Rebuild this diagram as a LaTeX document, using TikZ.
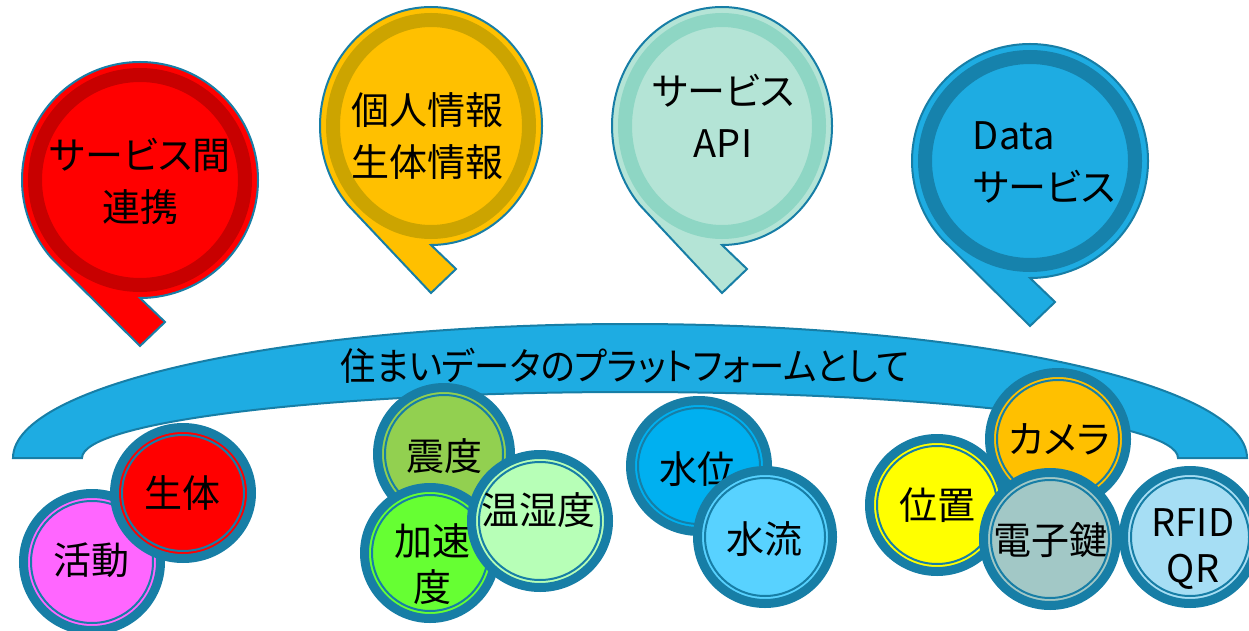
\documentclass[tikz,border=0pt]{standalone}
\usepackage{fontspec}
\setmainfont{Noto Sans CJK JP}[RawFeature=+palt]
\newfontfamily\narrowjp{Noto Sans CJK JP}[RawFeature=+palt, FakeStretch=0.93]

\definecolor{edge}{RGB}{23,126,166}
\definecolor{bandblue}{RGB}{30,172,226}
\definecolor{redfill}{RGB}{255,0,0}
\definecolor{redring}{RGB}{200,0,0}
\definecolor{goldfill}{RGB}{255,192,0}
\definecolor{goldring}{RGB}{204,164,0}
\definecolor{mintfill}{RGB}{180,228,214}
\definecolor{mintring}{RGB}{142,214,196}
\definecolor{bluefill}{RGB}{30,172,226}
\definecolor{bluering}{RGB}{22,130,172}
\definecolor{pinkC}{RGB}{255,102,255}
\definecolor{olivC}{RGB}{146,208,80}
\definecolor{limeC}{RGB}{102,255,51}
\definecolor{paleC}{RGB}{183,255,183}
\definecolor{cyanC}{RGB}{0,176,240}
\definecolor{skyC}{RGB}{88,210,255}
\definecolor{yellowC}{RGB}{255,255,0}
\definecolor{amberC}{RGB}{255,192,0}
\definecolor{greyC}{RGB}{162,200,198}
\definecolor{iceC}{RGB}{166,222,244}

\begin{document}
\begin{tikzpicture}[x=1pt,y=1pt,
    outline/.style={draw=edge, line width=2pt},
    ring/.style={line width=14pt},
    sensor/.style={draw=edge, line width=9pt},
    innerline/.style={draw=edge, line width=2pt},
    txt/.style={align=center, inner sep=0pt, font=\fontsize{38}{52}\selectfont},
    stxt/.style={align=center, inner sep=0pt, font=\fontsize{38}{46}\selectfont}]
  \useasboundingbox (0,0) rectangle (1249,630);

  % platform band
  \draw[outline, fill=bandblue]
    (13,172) arc[start angle=180, end angle=0, x radius=617, y radius=134]
    -- (1178,172) arc[start angle=0, end angle=180, x radius=548, y radius=66]
    -- cycle;
  \node[txt, font=\fontsize{38}{52}\narrowjp] (platform) at (625,264) {住まいデータのプラットフォームとして};

  % speech bubbles
  \foreach \x/\y/\a/\b/\f/\r in {140/450/118/118/redfill/redring,
      431/504/111/119/goldfill/goldring,
      722/504/110/119/mintfill/mintring,
      1030/469/118/117/bluefill/bluering} {
    \draw[outline, fill=\f] (\x,\y-\b)
      arc[start angle=-90, end angle=221.6, x radius=\a, y radius=\b]
      -- (\x,\y-\b-48) -- (\x+25,\y-\b-24) -- cycle;
    \draw[ring, draw=\r] (\x,\y) ellipse[x radius=\a-13, y radius=\b-13];
  }
  \node[txt] (renkei) at (140,449) {サービス間\\連携};
  \node[txt] (kojin) at (427,494) {個人情報\\生体情報};
  \node[txt] (api) at (723,514) {サービス\\API};
  \node[txt, align=left] (data) at (1044,468) {Data\\サービス};

  % sensors
  \foreach \x/\y/\a/\b/\c/\n/\tx/\ty/\t in {
      92/68/68.5/68.5/pinkC/katsudo/91/70/{活動},
      183/137/68.5/65.5/redfill/seitai/182/137/{生体},
      444/176/66.5/66.5/olivC/shindo/444/174/{震度},
      430/77/65.5/65.5/limeC/kasoku/432/66/{加速\\度},
      540/109/68.5/66.5/paleC/onshitsu/538/120/{温湿度},
      699/164/68.5/65.5/cyanC/suii/697/161/{水位},
      765/93/67.5/66.5/skyC/suiryu/764/91/{水流},
      937/125/67.5/66.5/yellowC/ichi/937/125/{位置},
      1058/191/68.5/66.5/amberC/camera/1059/191/{カメラ},
      1050/91/66.5/66.5/greyC/kagi/1050/90/{電子鍵},
      1190/93/66.5/66.5/iceC/rfid/1193/81/{RFID\\QR}} {
    \draw[sensor, fill=\c] (\x,\y) ellipse[x radius=\a, y radius=\b];
    \draw[innerline] (\x,\y) ellipse[x radius=\a-7.5, y radius=\b-7.5];
    \node[stxt] (\n) at (\tx,\ty) {\t};
  }
\end{tikzpicture}
\end{document}
